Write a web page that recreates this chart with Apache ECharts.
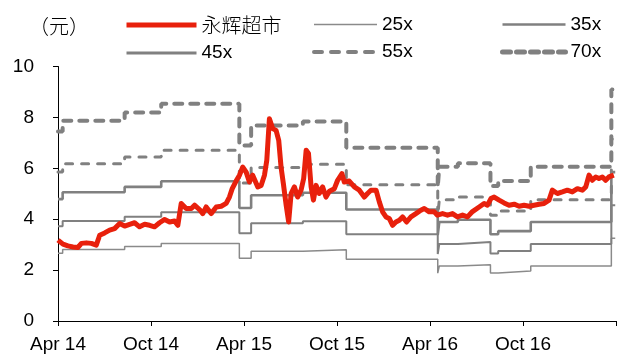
<!DOCTYPE html>
<html>
<head>
<meta charset="utf-8">
<script src="https://cdn.jsdelivr.net/npm/echarts@6/dist/echarts.min.js"></script>
<style>
html,body{margin:0;padding:0;background:#fff;}
#c{width:619px;height:356px;}
</style>
</head>
<body>
<div id="c"></div>
<script>
// x values are months since April 2014
const tickLabels = ['Apr 14', 'Oct 14', 'Apr 15', 'Oct 15', 'Apr 16', 'Oct 16', ''];

// 永辉超市 share price (元)
const priceMonths = [0.00,0.32,0.64,0.97,1.29,1.51,1.83,2.15,2.47,2.69,3.01,3.33,3.65,3.98,4.30,4.62,4.94,5.26,5.59,5.91,6.23,6.55,6.88,7.20,7.52,7.73,7.95,8.27,8.60,8.81,9.13,9.34,9.56,9.88,10.21,10.53,10.85,11.06,11.24,11.49,11.71,11.92,12.14,12.35,12.56,12.89,13.11,13.32,13.47,13.64,13.85,14.07,14.24,14.39,14.54,14.72,14.88,15.04,15.25,15.46,15.68,15.85,16.01,16.16,16.33,16.48,16.65,16.86,17.07,17.29,17.51,17.83,18.04,18.32,18.47,18.79,19.12,19.44,19.76,19.97,20.19,20.52,20.73,20.94,21.16,21.37,21.59,21.80,22.02,22.23,22.49,22.77,23.09,23.41,23.63,23.95,24.27,24.48,24.81,25.13,25.45,25.77,26.10,26.42,26.74,27.17,27.49,27.71,27.93,28.14,28.46,28.78,29.10,29.43,29.75,30.07,30.39,30.71,31.04,31.36,31.68,31.89,32.22,32.54,32.86,33.18,33.51,33.83,34.05,34.26,34.47,34.69,34.90,35.12,35.33,35.54,35.86];
const priceValues = [3.18,3.02,2.95,2.91,2.89,3.05,3.07,3.05,2.98,3.37,3.46,3.57,3.63,3.83,3.73,3.80,3.86,3.70,3.80,3.76,3.70,3.86,3.99,3.89,3.93,3.76,4.62,4.42,4.42,4.55,4.38,4.22,4.48,4.22,4.48,4.51,4.62,4.87,5.20,5.50,5.73,6.05,5.85,5.46,5.73,5.27,5.33,5.73,6.31,7.95,7.56,7.49,7.10,6.05,5.40,4.55,3.89,5.01,5.27,4.87,5.14,5.60,6.71,6.58,5.27,4.75,5.33,5.01,5.27,4.87,5.10,5.20,5.53,5.79,5.46,5.50,5.27,5.14,4.87,5.01,5.14,5.14,4.68,4.29,4.09,4.03,3.76,3.89,3.96,4.09,3.89,4.09,4.22,4.35,4.42,4.29,4.29,4.16,4.22,4.16,4.22,4.09,4.16,4.09,4.30,4.48,4.62,4.55,4.81,4.87,4.75,4.64,4.55,4.59,4.51,4.55,4.51,4.55,4.59,4.62,4.75,5.14,5.01,5.07,5.14,5.07,5.20,5.14,5.27,5.73,5.53,5.66,5.60,5.66,5.53,5.66,5.73];

// PE band lines (step changes at report dates)
const bandMonths = [0, 0.3, 4.3, 6.66, 11.7, 12.46, 15.8, 18.6, 24.5, 24.6, 25.8, 27.9, 28.4, 30.5, 35.7, 35.95];
const pe25 = [2.66, 2.81, 2.93, 3.05, 2.47, 2.74, 2.80, 2.43, 1.88, 2.16, 2.21, 1.89, 1.96, 2.16, 3.25, 3.25];
const pe35 = [3.72, 3.93, 4.10, 4.27, 3.45, 3.84, 3.92, 3.41, 2.63, 3.03, 3.10, 2.65, 2.75, 3.03, 4.55, 4.55];
const pe45 = [4.79, 5.06, 5.27, 5.49, 4.44, 4.94, 5.04, 4.38, 3.38, 3.89, 3.98, 3.41, 3.53, 3.89, 5.85, 5.85];
const pe55 = [5.85, 6.18, 6.44, 6.71, 5.42, 6.03, 6.16, 5.35, 4.13, 4.76, 4.87, 4.16, 4.32, 4.76, 7.15, 7.15];
const pe70 = [7.45, 7.87, 8.19, 8.54, 6.90, 7.68, 7.84, 6.81, 5.25, 6.06, 6.20, 5.30, 5.50, 6.06, 9.10, 9.10];

const seriesNames = ['永辉超市', '25x', '35x', '45x', '55x', '70x'];

function pairs(xs, ys) { return xs.map((x, i) => [x, ys[i]]); }

const FONT = '"Liberation Sans", Arial, sans-serif';
const CJK = '"Noto Sans CJK SC", sans-serif';
const GRAY = '#808080';
const RED = '#E8200C';

const chart = echarts.init(document.getElementById('c'), null, {renderer: 'canvas'});

function bandSeries(name, vals, width, dash, color) {
  return {
    name: name, type: 'line', step: 'end', symbol: 'none', animation: false,
    data: pairs(bandMonths, vals),
    lineStyle: {color: color, width: width, type: dash || 'solid', cap: dash ? 'round' : 'butt'},
    itemStyle: {color: color},
    z: 2
  };
}

const legendBase = {
  orient: 'vertical', itemHeight: 14, itemGap: 8.4,
  textStyle: {fontFamily: FONT, fontSize: 19, color: '#000'},
  itemStyle: {opacity: 0},
  selectedMode: false
};

function legItem(name, width, dash, color, extra) {
  return Object.assign({
    name: name,
    lineStyle: {width: width, type: dash || 'solid', color: color, cap: dash ? 'round' : 'butt'}
  }, extra || {});
}

chart.setOption({
  animation: false,
  grid: {left: 58, right: 2, top: 66.5, bottom: 35, containLabel: false},
  graphic: [{
    type: 'text', left: 29, top: 16,
    style: {text: '（元）', font: '300 20px ' + CJK, fill: '#000'}
  }],
  legend: [
    Object.assign({}, legendBase, {left: 119, top: 10, itemWidth: 70, data: [
      legItem(seriesNames[0], 5, null, RED, {textStyle: {fontFamily: CJK, fontSize: 20, fontWeight: 300}}),
      legItem(seriesNames[3], 3, null, GRAY)
    ]}),
    Object.assign({}, legendBase, {left: 307, top: 10, itemWidth: 63, data: [
      legItem(seriesNames[1], 1.5, null, '#8a8a8a'),
      legItem(seriesNames[4], 4, [8, 9], GRAY)
    ]}),
    Object.assign({}, legendBase, {left: 495, top: 10, itemWidth: 63, data: [
      legItem(seriesNames[2], 2.5, null, GRAY),
      legItem(seriesNames[5], 5, [8, 6], GRAY)
    ]})
  ],
  xAxis: {
    type: 'value', min: 0, max: 36, interval: 6,
    axisLine: {show: true, lineStyle: {color: '#000', width: 1}},
    axisTick: {show: true, length: 5, lineStyle: {color: '#000'}},
    splitLine: {show: false},
    axisLabel: {
      fontFamily: FONT, fontSize: 19, color: '#000', margin: 14,
      showMinLabel: true, showMaxLabel: true,
      formatter: v => tickLabels[Math.round(v / 6)] || ''
    }
  },
  yAxis: {
    type: 'value', min: 0, max: 10, interval: 2,
    axisLine: {show: true, lineStyle: {color: '#000', width: 1}},
    axisTick: {show: true, length: 5, lineStyle: {color: '#000'}},
    splitLine: {show: false},
    axisLabel: {fontFamily: FONT, fontSize: 19, color: '#000', margin: 24}
  },
  series: [
    {
      name: seriesNames[0], type: 'line', symbol: 'none', animation: false,
      data: pairs(priceMonths, priceValues),
      lineStyle: {color: RED, width: 5, join: 'round'},
      itemStyle: {color: RED},
      z: 5
    },
    bandSeries(seriesNames[1], pe25, 1.5, null, '#8a8a8a'),
    bandSeries(seriesNames[2], pe35, 2, null, GRAY),
    bandSeries(seriesNames[3], pe45, 2.6, null, GRAY),
    bandSeries(seriesNames[4], pe55, 3, [7, 9], GRAY),
    bandSeries(seriesNames[5], pe70, 4, [8, 8], GRAY)
  ]
});
</script>
</body>
</html>
